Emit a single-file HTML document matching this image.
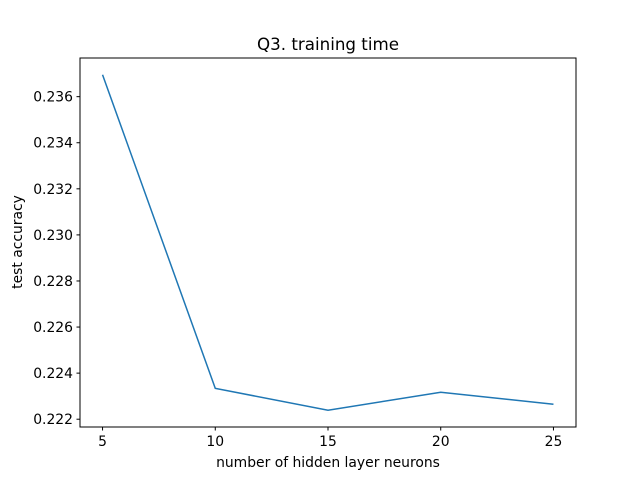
<!DOCTYPE html>
<html><head><meta charset="utf-8"><style>
body{margin:0;background:#fff;}
svg{display:block;font-family:"DejaVu Sans","Liberation Sans",sans-serif;}
</style></head><body>
<svg id="chart" width="640" height="480">
<rect width="640" height="480" fill="#fff"/>
<text x="328" y="50" font-size="16.7" text-anchor="middle">Q3. training time</text>
<text x="328" y="467" font-size="13.9" text-anchor="middle">number of hidden layer neurons</text>
<text x="0" y="0" font-size="13.9" text-anchor="middle" transform="translate(22,242) rotate(-90)">test accuracy</text>
<g id="ticks"></g>
<path id="line" fill="none" stroke="#1f77b4" stroke-width="1.5"/>
<rect x="80" y="58" width="496" height="369" fill="none" stroke="#000" stroke-width="1"/>
</svg>
<script>
const categories=[5,10,15,20,25];
const values=[0.23695,0.22334,0.22239,0.22317,0.22265];
const xTicks=[5,10,15,20,25];
const yTicks=[0.222,0.224,0.226,0.228,0.230,0.232,0.234,0.236];
const L=80,R=576,T=58,B=427;
const xmin=4,xmax=26;
const vmin=Math.min(...values),vmax=Math.max(...values),m=(vmax-vmin)*0.05;
const ymin=vmin-m,ymax=vmax+m;
const xs=v=>L+(v-xmin)/(xmax-xmin)*(R-L);
const ys=v=>B-(v-ymin)/(ymax-ymin)*(B-T);
const NS="http://www.w3.org/2000/svg";
const g=document.getElementById('ticks');
xTicks.forEach(t=>{
 const l=document.createElementNS(NS,'line');
 l.setAttribute('x1',xs(t));l.setAttribute('x2',xs(t));l.setAttribute('y1',B);l.setAttribute('y2',B+3.5);l.setAttribute('stroke','#000');
 
 
 g.appendChild(l);
 const tx=document.createElementNS(NS,'text');
 tx.setAttribute('x',xs(t));tx.setAttribute('y',B+19);tx.setAttribute('font-size','13.9');tx.setAttribute('text-anchor','middle');tx.textContent=t;
 
 
 g.appendChild(tx);
});
yTicks.forEach(t=>{
 if(t<ymin||t>ymax)return;
 const l=document.createElementNS(NS,'line');
 l.setAttribute('x1',L-3.5);l.setAttribute('x2',L);l.setAttribute('y1',ys(t));l.setAttribute('y2',ys(t));l.setAttribute('stroke','#000');
 
 
 g.appendChild(l);
 const tx=document.createElementNS(NS,'text');
 tx.setAttribute('x',L-7);tx.setAttribute('y',ys(t)+5);tx.setAttribute('font-size','13.9');tx.setAttribute('text-anchor','end');tx.textContent=t.toFixed(3);
 
 
 g.appendChild(tx);
});
document.getElementById('line').setAttribute('d',categories.map((c,i)=>(i?'L':'M')+xs(c)+','+ys(values[i])).join(' '));
</script>
</body></html>
